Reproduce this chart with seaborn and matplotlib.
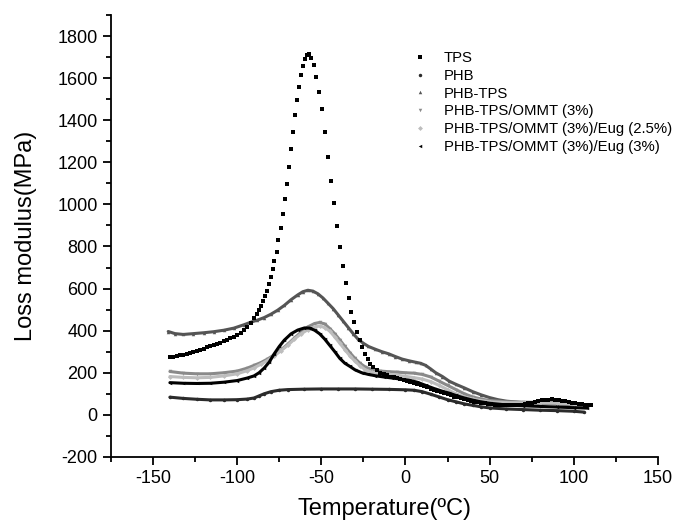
import numpy as np
import pandas as pd
import matplotlib
matplotlib.use('Agg')
import matplotlib.pyplot as plt
from matplotlib.lines import Line2D
from matplotlib.ticker import MultipleLocator
import seaborn as sns

# series (temperature in C, loss modulus in MPa)
tps_t = [-140, -138, -136, -134, -132, -130, -128, -126, -124, -122, -120, -118, -116, -114,
         -112, -110, -108, -106, -104, -102, -100, -98, -96, -94, -92,
         -89.8, -88.4, -87, -85.9, -84.5, -83.3, -82.3, -81.1, -80.1, -79, -78, -76.5,
         -75.5, -74, -73, -71.8, -70.6, -69.4, -68.2, -67, -65.8, -64.6, -63.5, -62.3,
         -61, -59.5, -58.7, -57.3, -56, -54.4, -53, -51.4, -49.6, -47.8, -46, -44.3,
         -42.5, -40.9, -38.9, -37.3, -35.5, -33.8, -32.2, -30.4, -28.8, -27.3, -25.8,
         -24.2, -22.5, -20.9, -19, -17, -15, -13, -11, -9, -7, -5, -3, -1, 1, 3, 5, 7, 9,
         11, 13, 15, 17, 19, 21, 23, 25, 27, 29, 31, 33, 35, 37, 39, 41, 43, 45, 47, 49,
         51, 53, 55, 57, 59, 61, 63, 65, 67, 69, 71, 73, 75, 77, 79, 81, 83, 85, 87, 89,
         91, 93, 95, 97, 99, 101, 103, 105, 107, 109, 110]
tps_y = [274, 276, 279, 282, 286, 291, 295, 300, 304, 309, 314, 320, 325, 331,
         337, 343, 350, 357, 364, 371, 380, 390, 402, 418, 438,
         459, 480, 499, 518, 541, 565, 590, 621, 654, 692, 732, 776,
         833, 888, 956, 1026, 1097, 1178, 1265, 1346, 1425, 1496, 1560, 1614,
         1658, 1693, 1709, 1713, 1696, 1661, 1604, 1533, 1454, 1344, 1225, 1113,
         1007, 898, 798, 708, 626, 553, 491, 439, 394, 355, 320,
         290, 264, 241, 225, 212, 201, 193, 187, 182, 178, 174, 170, 167, 163, 158, 153, 147, 142,
         136, 130, 124, 119, 113, 108, 102, 97, 92, 87, 83, 78, 74, 70, 66, 63, 60, 57, 54, 52,
         50, 48, 47, 46, 45, 45, 45, 46, 47, 48, 50, 54, 58, 62, 66, 69, 71, 72, 73, 72,
         71, 68, 65, 61, 58, 55, 52, 50, 48, 47, 46]

phb_t = [-140, -132, -124, -116, -108, -100, -94, -90, -87, -84, -80, -75, -70, -60, -50,
         -40, -30, -20, -10, 0, 5, 10, 15, 20, 25, 30, 35, 40, 45, 50, 60, 70, 80, 90, 100, 106]
phb_y = [84, 78, 74, 71, 71, 72, 75, 80, 90, 100, 110, 117, 120, 122, 123,
         123, 123, 122, 121, 119, 117, 110, 98, 85, 72, 62, 52, 45, 38, 33, 28, 25, 22, 20, 17, 13]

phbtps_t = [-141, -137, -132, -126, -120, -114, -108, -102, -96, -92, -88, -84, -80, -76, -72,
            -68, -64, -61, -58, -55, -52, -49, -46, -43, -40, -37, -34, -31, -28, -25, -22,
            -18, -14, -10, -6, -2, 2, 6, 9, 12, 15, 18, 22, 26, 30, 35, 40, 45, 50, 55, 60,
            70, 80, 90, 100, 106]
phbtps_y = [396, 386, 382, 386, 390, 395, 402, 412, 428, 440, 450, 462, 478, 497, 520,
            547, 570, 585, 592, 588, 575, 555, 530, 505, 475, 445, 415, 385, 358, 340, 325,
            312, 300, 290, 277, 265, 257, 250, 245, 235, 218, 200, 182, 160, 145, 128, 110, 95, 82, 72, 65,
            58, 55, 52, 48, 45]

ommt_t = [-140, -132, -124, -116, -108, -100, -94, -90, -86, -82, -78, -74, -70, -66, -62,
          -58, -54, -51, -48, -45, -42, -39, -36, -33, -30, -27, -24, -20, -15, -10, -5, 0,
          5, 10, 15, 20, 25, 30, 35, 40, 45, 50, 60, 70, 80, 90, 100, 108]
ommt_y = [206, 198, 195, 195, 200, 208, 222, 235, 248, 265, 285, 308, 335, 365, 393,
          418, 434, 439, 432, 410, 385, 356, 325, 295, 268, 245, 228, 215, 208, 205, 203, 200,
          198, 192, 180, 160, 140, 120, 100, 85, 75, 68, 62, 60, 60, 58, 52, 48]

eug25_t = [-140, -132, -124, -116, -108, -100, -94, -90, -86, -82, -78, -74, -70, -66, -62,
           -58, -54, -51, -48, -45, -42, -39, -36, -33, -30, -27, -24, -20, -15, -10, -5, 0,
           5, 10, 15, 20, 25, 30, 35, 40, 45, 50, 60, 70, 80, 90, 100, 108]
eug25_y = [182, 178, 176, 178, 185, 195, 210, 223, 240, 258, 280, 305, 330, 360, 385,
           405, 418, 422, 415, 398, 370, 340, 310, 280, 255, 233, 215, 202, 195, 192, 188, 183,
           177, 170, 158, 140, 120, 100, 85, 75, 68, 62, 58, 57, 56, 55, 50, 46]

eug3_t = [-140, -132, -124, -116, -108, -100, -94, -90, -87, -84, -81, -78, -75, -72, -68,
          -64, -60, -57, -54, -51, -48, -45, -42, -39, -36, -33, -30, -26, -22, -18, -13, -8,
          -3, 2, 7, 12, 17, 22, 26, 30, 35, 40, 44, 50, 60, 70, 80, 90, 100, 108]
eug3_y = [153, 150, 149, 150, 155, 163, 175, 185, 200, 222, 250, 290, 325, 355, 385,
          403, 413, 412, 402, 385, 360, 330, 300, 268, 245, 230, 214, 200, 192, 186, 180, 175,
          170, 165, 155, 140, 125, 112, 103, 92, 80, 70, 63, 55, 47, 43, 40, 37, 34, 32]

series = [
    ('TPS', tps_t, tps_y, '#000000', 's'),
    ('PHB', phb_t, phb_y, '#2b2b2b', 'o'),
    ('PHB-TPS', phbtps_t, phbtps_y, '#555555', '^'),
    ('PHB-TPS/OMMT (3%)', ommt_t, ommt_y, '#8a8a8a', 'v'),
    ('PHB-TPS/OMMT (3%)/Eug (2.5%)', eug25_t, eug25_y, '#bdbdbd', 'D'),
    ('PHB-TPS/OMMT (3%)/Eug (3%)', eug3_t, eug3_y, '#000000', '<'),
]

sns.set_style('ticks')
plt.rcParams['font.family'] = ['Liberation Sans', 'DejaVu Sans']
plt.rcParams['axes.unicode_minus'] = False
plt.rcParams['text.color'] = 'black'
plt.rcParams['axes.labelcolor'] = 'black'
plt.rcParams['xtick.color'] = 'black'
plt.rcParams['ytick.color'] = 'black'

fig = plt.figure(figsize=(6.74, 5.24), dpi=100)
ax = fig.add_axes([0.1647, 0.128, 0.8113, 0.8434])

handles = []
for name, t, y, col, mk in series:
    df = pd.DataFrame({'t': t, 'y': y})
    if name == 'TPS':
        sns.scatterplot(data=df, x='t', y='y', marker='s', s=7, color=col,
                        edgecolor=col, linewidth=0, ax=ax, zorder=3)
    else:
        sns.lineplot(data=df, x='t', y='y', color=col, lw=2.2, sort=False,
                     marker=mk, markersize=2.5, markeredgewidth=0, ax=ax)
    handles.append(Line2D([], [], ls='none', marker=mk, color=col,
                          markersize=2.5, markeredgewidth=0))

ax.set_xlim(-175, 150)
ax.set_ylim(-200, 1900)
ax.set_yticks(np.arange(-200, 1801, 200))
ax.set_xticks(np.arange(-150, 151, 50))
ax.xaxis.set_minor_locator(MultipleLocator(25))
ax.yaxis.set_minor_locator(MultipleLocator(100))
ax.tick_params(which='major', direction='out', length=6, width=1.3, labelsize=13)
ax.tick_params(which='minor', direction='out', length=3.5, width=1.3)
for s in ['left', 'bottom']:
    ax.spines[s].set_linewidth(1.3)
    ax.spines[s].set_color('black')
sns.despine(ax=ax)

ax.set_xlabel('Temperature(ºC)', fontsize=17, labelpad=8)
ax.set_ylabel('Loss modulus(MPa)', fontsize=17, labelpad=15)

ax.legend(handles, [s[0] for s in series], loc='upper left',
          bbox_to_anchor=(0.535, 0.935), frameon=False, fontsize=10.7,
          handlelength=1.2, handletextpad=1.0, labelspacing=0.25, borderpad=0)

fig.savefig('out.png', dpi=100)
